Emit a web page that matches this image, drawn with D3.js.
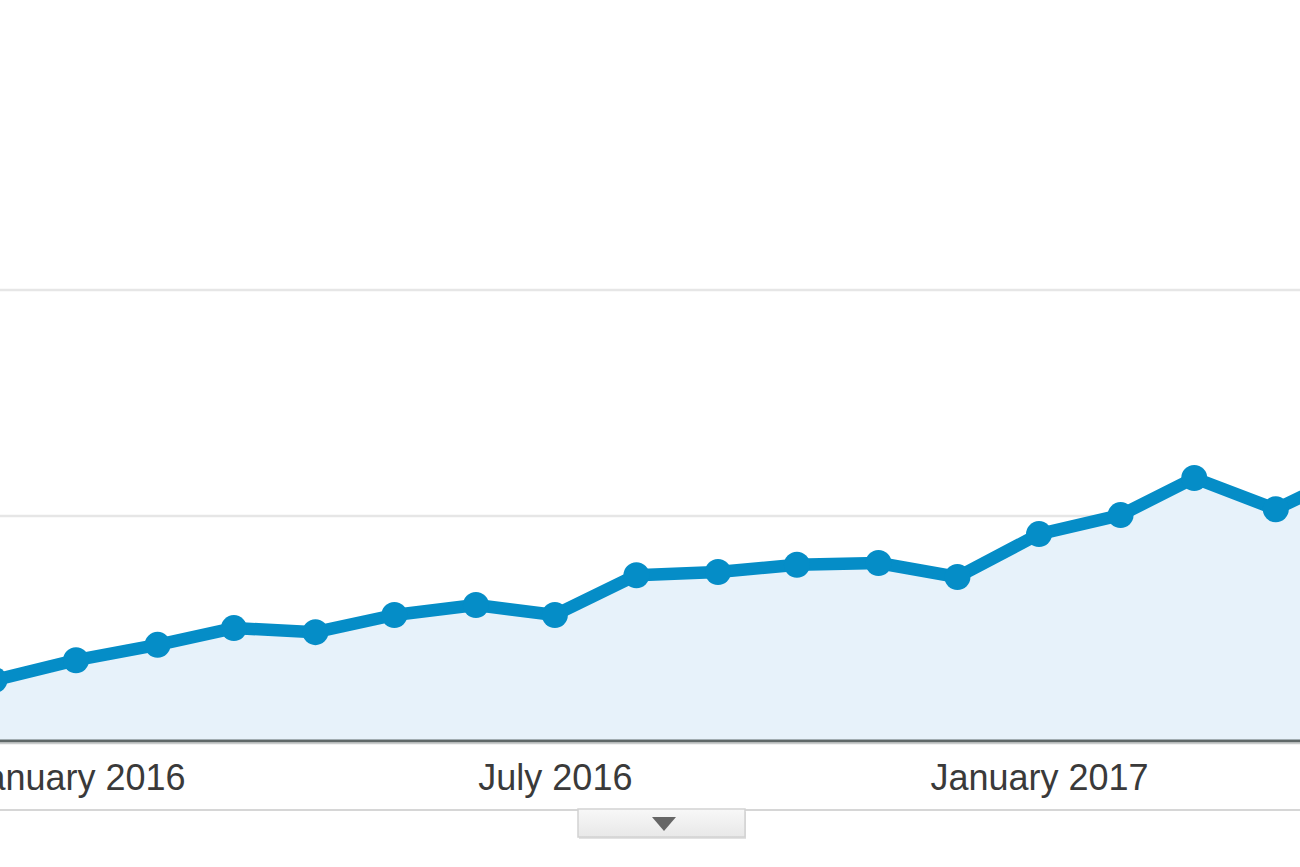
<!DOCTYPE html>
<html>
<head>
<meta charset="utf-8">
<script src="https://cdn.jsdelivr.net/npm/d3@7"></script>
<style>
  html, body { margin: 0; padding: 0; background: #fff; overflow: hidden; }
  svg { display: block; }
</style>
</head>
<body>
<svg id="chart" width="1300" height="867"></svg>
<script>
// ---- data ----
const months = ["2015-12-01","2016-01-01","2016-02-01","2016-03-01","2016-04-01","2016-05-01",
                "2016-06-01","2016-07-01","2016-08-01","2016-09-01","2016-10-01","2016-11-01",
                "2016-12-01","2017-01-01","2017-02-01","2017-03-01","2017-04-01","2017-05-01"];
const values = [137, 181, 215, 252, 243, 281, 303, 281, 369, 376, 392, 396, 365, 460, 502, 584, 515, 600];
const tickDates = ["2016-01-01", "2016-07-01", "2017-01-01"];
const gridValues = [500, 1000];

const parse = d3.utcParse("%Y-%m-%d");
const data = months.map((m, i) => ({ date: parse(m), value: values[i] }));

const svg = d3.select("#chart");

const x = d3.scaleUtc()
  .domain([parse("2016-01-01"), parse("2017-01-01")])
  .range([76, 1039]);
const y = d3.scaleLinear().domain([0, 1000]).range([742, 290]);

// gridlines
svg.append("g").selectAll("line").data(gridValues).join("line")
  .attr("x1", 0).attr("x2", 1300)
  .attr("y1", d => y(d)).attr("y2", d => y(d))
  .attr("stroke", "#e6e6e6").attr("stroke-width", 2.5);

// area
svg.append("path").datum(data)
  .attr("fill", "#e7f2fa")
  .attr("d", d3.area().x(d => x(d.date)).y0(y(0)).y1(d => y(d.value)));

// baseline
svg.append("line").attr("x1", 0).attr("x2", 1300)
  .attr("y1", y(0) - 1).attr("y2", y(0) - 1)
  .attr("stroke", "#5f6868").attr("stroke-width", 3);
svg.append("line").attr("x1", 0).attr("x2", 1300)
  .attr("y1", y(0) + 1.5).attr("y2", y(0) + 1.5)
  .attr("stroke", "#c9cccc").attr("stroke-width", 1.5);

// line
svg.append("path").datum(data)
  .attr("fill", "none")
  .attr("stroke", "#058dc7")
  .attr("stroke-width", 12.5)
  .attr("stroke-linejoin", "round")
  .attr("d", d3.line().x(d => x(d.date)).y(d => y(d.value)));

// points
svg.append("g").selectAll("circle").data(data).join("circle")
  .attr("cx", d => x(d.date)).attr("cy", d => y(d.value))
  .attr("r", 13).attr("fill", "#058dc7");

// x axis labels
const axis = d3.axisBottom(x)
  .tickValues(tickDates.map(parse))
  .tickFormat(d3.utcFormat("%B %Y"))
  .tickSize(0);
const gx = svg.append("g").attr("transform", `translate(0,${y(0)})`).call(axis);
gx.select(".domain").remove();
gx.selectAll("text")
  .attr("y", 48).attr("dy", 0)
  .attr("fill", "#3a3a3a")
  .style("font-family", "'Liberation Sans', Arial, sans-serif")
  .style("font-size", "36px");

// bottom separator line
svg.append("line").attr("x1", 0).attr("x2", 1300)
  .attr("y1", 810).attr("y2", 810)
  .attr("stroke", "#d6d6d6").attr("stroke-width", 2);

// toggle button
const defs = svg.append("defs");
const grad = defs.append("linearGradient").attr("id", "btn").attr("x1", 0).attr("y1", 0).attr("x2", 0).attr("y2", 1);
grad.append("stop").attr("offset", "0%").attr("stop-color", "#f8f8f8");
grad.append("stop").attr("offset", "100%").attr("stop-color", "#e8e8e8");
svg.append("rect").attr("x", 579).attr("y", 812).attr("width", 167).attr("height", 27)
  .attr("fill", "#e2e2e2");
svg.append("rect").attr("x", 578).attr("y", 809).attr("width", 167).attr("height", 28)
  .attr("fill", "url(#btn)").attr("stroke", "#d2d2d2").attr("stroke-width", 1.5);
svg.append("path").attr("d", "M652,817 L676,817 L664,831 Z").attr("fill", "#666");
</script>
</body>
</html>
